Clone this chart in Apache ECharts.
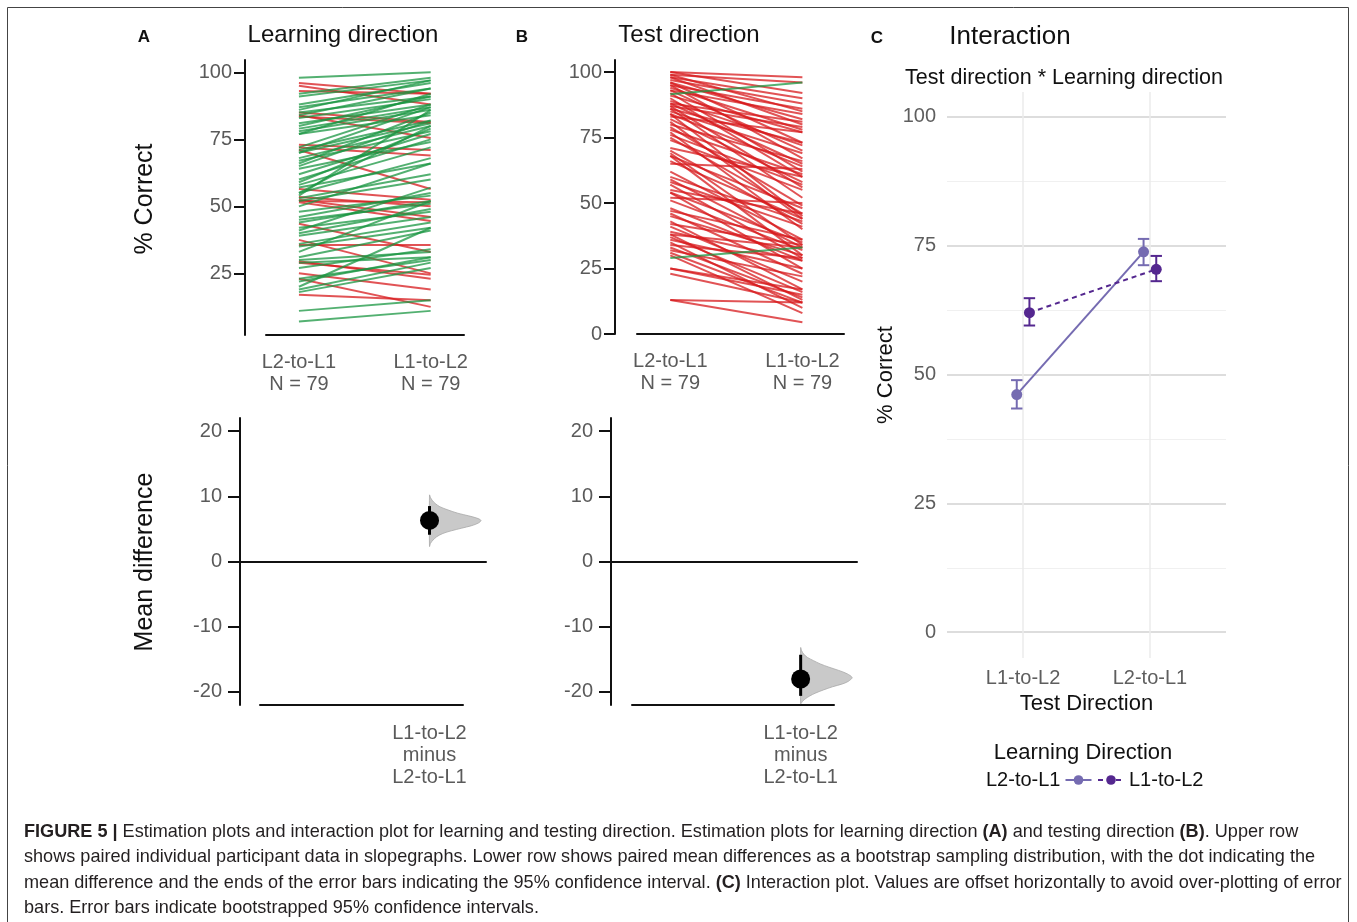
<!DOCTYPE html>
<html><head><meta charset="utf-8">
<script src="https://cdn.jsdelivr.net/npm/echarts@6/dist/echarts.min.js"></script>
<style>html,body{margin:0;padding:0;background:#fff}#c{width:1357px;height:922px}</style>
</head><body><div id="c"></div>
<script>
// ---------------- DATA ----------------
const slopeCategories = ['L2-to-L1', 'L1-to-L2'];
const sampleN = 79;
// Panel A: learning direction, paired % correct (left = L2-to-L1, right = L1-to-L2)
const learnL2toL1 = [96,95,93,85,84,83.5,73,71,72,56.5,53.5,52.5,51.5,52,43.5,37.5,35.5,29.5,29,25,23,17,
  98,92,91,88,87,86,85,84,83,81,80,79,78,77,77,72,71,70,70,68,67,66,65,64,62,60,59,58,57,55,55,54,53,52,50,48,46,45,44,42,41,40,39,36,35,33,31,30,29,27,23,22,20,19,18,11,7];
const learnL1toL2 = [92,88,92,81.5,75.5,81,71,56.5,69,52.5,50,46,44.5,51.5,33,25,35.5,23,24.5,19,12.5,15,
  100,98,97,96,94,97,91,94,90,88,91,87,86,84,92,88,82,81,87,80,78,85,82,74,77,75,79,72,66,80,68,86,62,60,66,54,55,51,52,48,57,49,46,44,42,52,41,33,31,34,30,31,42,29,27,15,11];
// Panel B: test direction, paired % correct (left = L2-to-L1, right = L1-to-L2)
const testL2toL1 = [100,100,99,99,98,98,97,96,96,95,95,94,93,93,92,91,90,89,88,88,87,86,86,85,84,84,83,82,81,80,
  79,78,77,76,75,74,71,70,69,68,68,66,65,62,59,58,57,55,54,54,52,51,48,47,46,45,43,42,41,39,38,38,37,36,35,34,33,32,31,30,25,25,23,13,13,87,60,91.5,29];
const testL1toL2 = [98,92,96,85,90,80,88,82,73,86,67,78,84,70,62,77,60,72,81,65,56,73,52,69,64,45,77,58,44,66,
  49,61,40,57,46,55,60,42,34,48,30,44,63,36,33,41,29,46,35,25,50,32,28,36,23,30,17,34,20,28,13,33,16,25,10,29,14,22,12,8,15,17,12,12,4.5,79,43,96,33];
const pctTicks = [0, 25, 50, 75, 100];
const diffTicks = [-20, -10, 0, 10, 20];
const diffLabel = 'L1-to-L2\nminus\nL2-to-L1';
// Mean differences (A, B) with 95% CI
const meanDiff = [6.3, -18.0];
const meanDiffLow = [4.1, -20.6];
const meanDiffHigh = [8.5, -14.3];
// bootstrap distributions (relative density at each value)
const learnBootY = [10.2, 9.8, 9.4, 8.9, 8.4, 7.9, 7.4, 7.0, 6.65, 6.3, 5.9, 5.5, 5.1, 4.7, 4.3, 3.8, 3.3, 2.8, 2.3];
const learnBootDensity = [0, 0.02, 0.05, 0.11, 0.2, 0.36, 0.55, 0.76, 0.92, 1, 0.95, 0.82, 0.62, 0.42, 0.26, 0.14, 0.07, 0.02, 0];
const testBootY = [-13.2, -13.7, -14.2, -14.7, -15.2, -15.7, -16.2, -16.7, -17.2, -17.8, -18.4, -18.8, -19.2, -19.7, -20.2, -20.6, -21.0, -21.4, -21.8];
const testBootDensity = [0, 0.02, 0.06, 0.13, 0.25, 0.38, 0.55, 0.74, 0.9, 1, 0.92, 0.8, 0.62, 0.44, 0.28, 0.18, 0.1, 0.04, 0];
// Panel C: interaction
const testDirections = ['L1-to-L2', 'L2-to-L1'];
const learningDirections = ['L2-to-L1', 'L1-to-L2'];
const meanL2toL1 = [46.1, 73.8];
const lowL2toL1 = [43.4, 71.2];
const highL2toL1 = [48.9, 76.3];
const meanL1toL2 = [62.0, 70.4];
const lowL1toL2 = [59.5, 68.1];
const highL1toL2 = [64.8, 73.0];
const interactionTicks = [0, 25, 50, 75, 100];
const interactionMinor = [12.5, 37.5, 62.5, 87.5];

// ---------------- STYLE ----------------
const FONT = '"Liberation Sans", Arial, Helvetica, sans-serif';
const GREEN = 'rgba(26,150,65,0.75)';
const RED = 'rgba(215,25,28,0.75)';
const AXIS = '#111';
const TICKTXT = '#5a5a5a';
const LIGHTP = '#756bb1';
const DARKP = '#54278f';
const DODGE = 0.05;
const BOOT_W = 0.39;
const CAP = 0.045;

const chart = echarts.init(document.getElementById('c'), null, {renderer: 'canvas'});

function slopeData(left, right) {
  return left.map((l, i) => ({coords: [[1, l], [2, right[i]]], lineStyle: {color: right[i] > l ? GREEN : RED}}));
}
function valAxis(o) { return Object.assign({type: 'value', splitLine: {show: false}, axisTick: {show: false}, axisLabel: {show: false}, axisLine: {show: false}}, o); }

const grids = [
  {left: 266, top: 60, width: 198, height: 275},   // 0 A slope
  {left: 637, top: 60, width: 207, height: 274},   // 1 B slope
  {left: 260, top: 418, width: 203, height: 287},  // 2 A diff baseline
  {left: 240, top: 418, width: 246, height: 287},  // 3 A diff main
  {left: 632, top: 418, width: 202, height: 287},  // 4 B diff baseline
  {left: 611, top: 418, width: 246, height: 287},  // 5 B diff main
  {left: 947, top: 92, width: 279, height: 566}    // 6 C
].map(g => Object.assign({outerBoundsMode: 'none', containLabel: false}, g));

const slopeX = (gi, min, max) => valAxis({gridIndex: gi, min, max,
  axisLine: {show: true, onZero: false, lineStyle: {color: AXIS, width: 2}},
  axisLabel: {show: true, customValues: [1, 2], formatter: v => slopeCategories[Math.round(v) - 1] + '\nN = ' + sampleN,
    color: TICKTXT, fontSize: 20, lineHeight: 22, margin: 16, fontFamily: FONT}});
const slopeY = (gi, min, max, off, ticks) => valAxis({gridIndex: gi, min, max, offset: off,
  axisLine: {show: true, onZero: false, lineStyle: {color: AXIS, width: 2}},
  axisTick: {show: true, customValues: ticks, length: 11, lineStyle: {color: AXIS, width: 2}},
  axisLabel: {show: true, customValues: ticks, color: TICKTXT, fontSize: 20, margin: 13, fontFamily: FONT}});

const xAxes = [
  slopeX(0, 0.75, 2.253),
  slopeX(1, 0.748, 2.315),
  valAxis({gridIndex: 2, min: 0.716, max: 2.254, axisLine: {show: true, onZero: false, lineStyle: {color: AXIS, width: 2}},
    axisLabel: {show: true, customValues: [2], formatter: () => diffLabel, color: TICKTXT, fontSize: 20, lineHeight: 22, margin: 17, fontFamily: FONT}}),
  valAxis({gridIndex: 3, min: 0.564, max: 2.428, axisLine: {show: true, onZero: true, lineStyle: {color: AXIS, width: 2}}}),
  valAxis({gridIndex: 4, min: 0.722, max: 2.252, axisLine: {show: true, onZero: false, lineStyle: {color: AXIS, width: 2}},
    axisLabel: {show: true, customValues: [2], formatter: () => diffLabel, color: TICKTXT, fontSize: 20, lineHeight: 22, margin: 17, fontFamily: FONT}}),
  valAxis({gridIndex: 5, min: 0.563, max: 2.427, axisLine: {show: true, onZero: true, lineStyle: {color: AXIS, width: 2}}}),
  valAxis({gridIndex: 6, min: 0.4, max: 2.6,
    axisTick: {show: false, customValues: [1, 2]},
    splitLine: {show: true, lineStyle: {color: '#ebebeb', width: 1.5}},
    axisLabel: {show: true, customValues: [1, 2], formatter: v => testDirections[Math.round(v) - 1], color: '#5e5e5e', fontSize: 20, margin: 10, fontFamily: FONT},
    name: 'Test Direction', nameLocation: 'middle', nameGap: 34, nameTextStyle: {color: '#111', fontSize: 22, fontFamily: FONT}})
];
const yAxes = [
  slopeY(0, 2, 104.6, 21, [25, 50, 75, 100]),
  slopeY(1, 0, 104.6, 22, pctTicks),
  valAxis({gridIndex: 2, min: -22, max: 22}),
  valAxis({gridIndex: 3, min: -22, max: 22,
    axisLine: {show: true, onZero: false, lineStyle: {color: AXIS, width: 2}},
    axisTick: {show: true, customValues: diffTicks, length: 12, lineStyle: {color: AXIS, width: 2}},
    axisLabel: {show: true, customValues: diffTicks, color: TICKTXT, fontSize: 20, margin: 18, fontFamily: FONT}}),
  valAxis({gridIndex: 4, min: -22, max: 22}),
  valAxis({gridIndex: 5, min: -22, max: 22,
    axisLine: {show: true, onZero: false, lineStyle: {color: AXIS, width: 2}},
    axisTick: {show: true, customValues: diffTicks, length: 12, lineStyle: {color: AXIS, width: 2}},
    axisLabel: {show: true, customValues: diffTicks, color: TICKTXT, fontSize: 20, margin: 18, fontFamily: FONT}}),
  valAxis({gridIndex: 6, position: 'left', min: -5, max: 104.8, axisTick: {show: false, customValues: interactionMinor},
    splitLine: {show: true, lineStyle: {color: '#f0f0f0', width: 1}}}),
  valAxis({gridIndex: 6, position: 'left', min: -5, max: 104.8, axisTick: {show: false, customValues: interactionTicks},
    splitLine: {show: true, lineStyle: {color: '#d2d2d2', width: 1.5}},
    axisLabel: {show: true, customValues: interactionTicks, color: '#5e5e5e', fontSize: 20, margin: 11, fontFamily: FONT},
    name: '% Correct', nameLocation: 'middle', nameRotate: 90, nameGap: 50, nameTextStyle: {color: '#111', fontSize: 22, fontFamily: FONT}})
];

function bootSeries(xi, ys, dens, k) {
  return [
    {type: 'custom', xAxisIndex: xi, yAxisIndex: xi, data: [[2, meanDiff[k]]], z: 2, clip: false,
      renderItem: (p, api) => ({type: 'polygon', shape: {points: ys.map((y, i) => api.coord([2 + dens[i] * BOOT_W, y])), smooth: 0.3},
        style: {fill: '#c9c9c9', stroke: '#a8a8a8', lineWidth: 0.8}})},
    {type: 'custom', xAxisIndex: xi, yAxisIndex: xi, data: [[2, meanDiffLow[k], meanDiffHigh[k]]], z: 3, clip: false,
      renderItem: (p, api) => {
        const a = api.coord([api.value(0), api.value(1)]), b = api.coord([api.value(0), api.value(2)]);
        return {type: 'line', shape: {x1: a[0], y1: a[1], x2: b[0], y2: b[1]}, style: {stroke: '#000', lineWidth: 3}};
      }},
    {type: 'scatter', xAxisIndex: xi, yAxisIndex: xi, data: [[2, meanDiff[k]]], symbolSize: 19, itemStyle: {color: '#000', opacity: 1}, z: 4}
  ];
}
function errSeries(color, xs, lo, hi) {
  return {type: 'custom', xAxisIndex: 6, yAxisIndex: 7, z: 3,
    data: xs.map((x, i) => [x, lo[i], hi[i]]),
    renderItem: (p, api) => {
      const x = api.value(0), l = api.value(1), h = api.value(2);
      const a = api.coord([x, l]), b = api.coord([x, h]);
      const c1 = api.coord([x - CAP, l]), c2 = api.coord([x + CAP, l]);
      const d1 = api.coord([x - CAP, h]), d2 = api.coord([x + CAP, h]);
      const st = {stroke: color, lineWidth: 2};
      return {type: 'group', children: [
        {type: 'line', shape: {x1: a[0], y1: a[1], x2: b[0], y2: b[1]}, style: st},
        {type: 'line', shape: {x1: c1[0], y1: c1[1], x2: c2[0], y2: c2[1]}, style: st},
        {type: 'line', shape: {x1: d1[0], y1: d1[1], x2: d2[0], y2: d2[1]}, style: st}]};
    }};
}

const xsL2 = [1 - DODGE, 2 - DODGE], xsL1 = [1 + DODGE, 2 + DODGE];
const series = [
  {type: 'lines', coordinateSystem: 'cartesian2d', xAxisIndex: 0, yAxisIndex: 0, data: slopeData(learnL2toL1, learnL1toL2), lineStyle: {width: 2, opacity: 1}, silent: true},
  {type: 'lines', coordinateSystem: 'cartesian2d', xAxisIndex: 1, yAxisIndex: 1, data: slopeData(testL2toL1, testL1toL2), lineStyle: {width: 2, opacity: 1}, silent: true},
  ...bootSeries(3, learnBootY, learnBootDensity, 0),
  ...bootSeries(5, testBootY, testBootDensity, 1),
  errSeries(LIGHTP, xsL2, lowL2toL1, highL2toL1),
  errSeries(DARKP, xsL1, lowL1toL2, highL1toL2),
  {type: 'line', name: learningDirections[0], xAxisIndex: 6, yAxisIndex: 7, data: xsL2.map((x, i) => [x, meanL2toL1[i]]),
    symbol: 'circle', symbolSize: 11, itemStyle: {color: LIGHTP}, lineStyle: {color: LIGHTP, width: 2, type: 'solid'}, z: 4},
  {type: 'line', name: learningDirections[1], xAxisIndex: 6, yAxisIndex: 7, data: xsL1.map((x, i) => [x, meanL1toL2[i]]),
    symbol: 'circle', symbolSize: 11, itemStyle: {color: DARKP}, lineStyle: {color: DARKP, width: 2, type: [5, 4]}, z: 4}
];

function txt(text, x, y, size, opts) {
  return Object.assign({type: 'text', x, y, style: Object.assign({text, font: (opts && opts.bold ? 'bold ' : '') + size + 'px ' + FONT,
    fill: (opts && opts.color) || '#111', textAlign: (opts && opts.align) || 'center', textVerticalAlign: 'middle'}, (opts && opts.style) || {})},
    opts && opts.rot ? {rotation: opts.rot} : {});
}
const CAPSIZE = 18.1;
const capRich = {b: {fontWeight: 'bold', fontSize: CAPSIZE, fontFamily: FONT, fill: '#231f20', color: '#231f20'}};
const capLines = [
  '{b|FIGURE 5 |} Estimation plots and interaction plot for learning and testing direction. Estimation plots for learning direction {b|(A)} and testing direction {b|(B)}. Upper row',
  'shows paired individual participant data in slopegraphs. Lower row shows paired mean differences as a bootstrap sampling distribution, with the dot indicating the',
  'mean difference and the ends of the error bars indicating the 95% confidence interval. {b|(C)} Interaction plot. Values are offset horizontally to avoid over-plotting of error',
  'bars. Error bars indicate bootstrapped 95% confidence intervals.'
];
const graphics = [
  {type: 'rect', shape: {x: 7.5, y: 7.5, width: 1341, height: 1000}, style: {fill: 'none', stroke: '#444', lineWidth: 1}, silent: true},
  txt('A', 144, 37, 17, {bold: true}),
  txt('B', 522, 37, 17, {bold: true}),
  txt('C', 877, 38, 17, {bold: true}),
  txt('Learning direction', 343, 35, 24),
  txt('Test direction', 689, 35, 24),
  txt('Interaction', 1010, 37, 26),
  txt('Test direction * Learning direction', 1064, 78, 21.5),
  txt('% Correct', 145, 199, 25, {rot: Math.PI / 2}),
  txt('Mean difference', 145, 562, 25, {rot: Math.PI / 2}),
  txt('Learning Direction', 1083, 753, 22),
  ...capLines.map((t, i) => ({type: 'text', x: 24, y: 832 + i * 25.4,
    style: {text: t, rich: capRich, font: CAPSIZE + 'px ' + FONT, fill: '#231f20', textAlign: 'left', textVerticalAlign: 'middle'}}))
];

chart.setOption({
  animation: false,
  backgroundColor: '#fff',
  grid: grids,
  xAxis: xAxes,
  yAxis: yAxes,
  legend: [
    {data: [learningDirections[0]], left: 981, top: 765, align: 'right', itemWidth: 26, itemHeight: 12, itemGap: 4,
      textStyle: {fontSize: 20, color: '#111', fontFamily: FONT}, selectedMode: false},
    {data: [learningDirections[1]], left: 1092, top: 765, align: 'left', itemWidth: 26, itemHeight: 12, itemGap: 4,
      textStyle: {fontSize: 20, color: '#111', fontFamily: FONT}, selectedMode: false}
  ],
  series,
  graphic: graphics
});
</script></body></html>
